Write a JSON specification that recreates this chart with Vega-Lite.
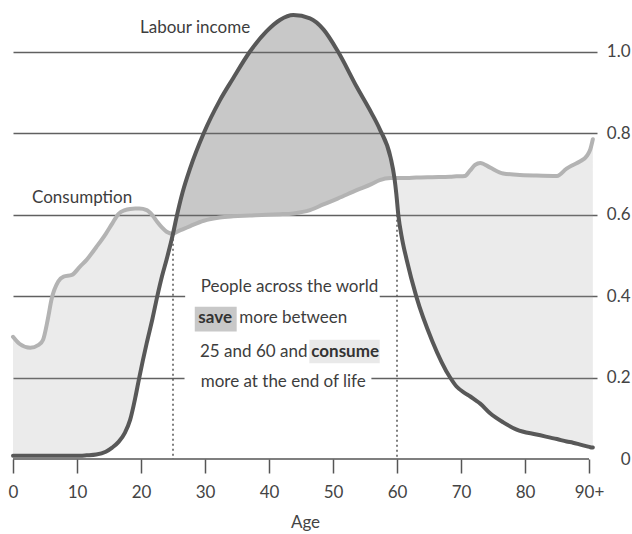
{
  "$schema": "https://vega.github.io/schema/vega-lite/v6.json",
  "width": 584,
  "height": 448,
  "autosize": {"type": "none"},
  "padding": {"left": 13, "top": 11, "right": 35, "bottom": 75},
  "background": "white",
  "config": {"view": {"stroke": null}, "font": "Lato"},
  "datasets": {
    "series": [
      {"age": 0, "cons": 0.300, "inc": 0.008},
      {"age": 1, "cons": 0.283, "inc": 0.008},
      {"age": 2.7, "cons": 0.273, "inc": 0.008},
      {"age": 4, "cons": 0.280, "inc": 0.008},
      {"age": 4.7, "cons": 0.293, "inc": 0.008},
      {"age": 5.4, "cons": 0.340, "inc": 0.008},
      {"age": 6.05, "cons": 0.394, "inc": 0.008},
      {"age": 7.07, "cons": 0.436, "inc": 0.008},
      {"age": 7.9, "cons": 0.448, "inc": 0.008},
      {"age": 9.2, "cons": 0.452, "inc": 0.008},
      {"age": 10.5, "cons": 0.473, "inc": 0.008},
      {"age": 11.5, "cons": 0.489, "inc": 0.009},
      {"age": 13, "cons": 0.520, "inc": 0.011},
      {"age": 14.5, "cons": 0.553, "inc": 0.018},
      {"age": 15.5, "cons": 0.578, "inc": 0.028},
      {"age": 16.5, "cons": 0.602, "inc": 0.042},
      {"age": 17.5, "cons": 0.611, "inc": 0.065},
      {"age": 18.3, "cons": 0.614, "inc": 0.096},
      {"age": 19.1, "cons": 0.615, "inc": 0.150},
      {"age": 19.73, "cons": 0.615, "inc": 0.200},
      {"age": 20.9, "cons": 0.611, "inc": 0.285},
      {"age": 21.8, "cons": 0.598, "inc": 0.345},
      {"age": 22.55, "cons": 0.582, "inc": 0.400},
      {"age": 23.3, "cons": 0.568, "inc": 0.450},
      {"age": 24, "cons": 0.558, "inc": 0.490},
      {"age": 25, "cons": 0.553, "inc": 0.553},
      {"age": 25.5, "cons": 0.557, "inc": 0.590},
      {"age": 26.5, "cons": 0.564, "inc": 0.655},
      {"age": 27.7, "cons": 0.572, "inc": 0.715},
      {"age": 29.8, "cons": 0.585, "inc": 0.800},
      {"age": 32.3, "cons": 0.593, "inc": 0.880},
      {"age": 34.4, "cons": 0.596, "inc": 0.935},
      {"age": 37, "cons": 0.598, "inc": 1.000},
      {"age": 39.6, "cons": 0.600, "inc": 1.050},
      {"age": 41.7, "cons": 0.601, "inc": 1.078},
      {"age": 43.8, "cons": 0.603, "inc": 1.090},
      {"age": 46.4, "cons": 0.611, "inc": 1.082},
      {"age": 48.5, "cons": 0.625, "inc": 1.055},
      {"age": 50.8, "cons": 0.640, "inc": 1.000},
      {"age": 53.7, "cons": 0.660, "inc": 0.914},
      {"age": 56, "cons": 0.675, "inc": 0.850},
      {"age": 57.3, "cons": 0.685, "inc": 0.810},
      {"age": 59, "cons": 0.690, "inc": 0.740},
      {"age": 59.6, "cons": 0.690, "inc": 0.690},
      {"age": 59.9, "cons": 0.690, "inc": 0.650},
      {"age": 60.2, "cons": 0.690, "inc": 0.600},
      {"age": 60.8, "cons": 0.690, "inc": 0.540},
      {"age": 61.5, "cons": 0.690, "inc": 0.490},
      {"age": 63, "cons": 0.691, "inc": 0.400},
      {"age": 65.5, "cons": 0.692, "inc": 0.290},
      {"age": 68.3, "cons": 0.693, "inc": 0.200},
      {"age": 69.3, "cons": 0.694, "inc": 0.178},
      {"age": 70.6, "cons": 0.695, "inc": 0.162},
      {"age": 71.4, "cons": 0.708, "inc": 0.154},
      {"age": 72.2, "cons": 0.722, "inc": 0.145},
      {"age": 73, "cons": 0.727, "inc": 0.136},
      {"age": 74.5, "cons": 0.716, "inc": 0.113},
      {"age": 76.6, "cons": 0.701, "inc": 0.090},
      {"age": 78.7, "cons": 0.698, "inc": 0.072},
      {"age": 81.8, "cons": 0.696, "inc": 0.060},
      {"age": 85, "cons": 0.695, "inc": 0.049},
      {"age": 86.5, "cons": 0.713, "inc": 0.043},
      {"age": 87.5, "cons": 0.722, "inc": 0.040},
      {"age": 88.5, "cons": 0.730, "inc": 0.036},
      {"age": 89.7, "cons": 0.745, "inc": 0.031},
      {"age": 90.2, "cons": 0.760, "inc": 0.029},
      {"age": 90.6, "cons": 0.785, "inc": 0.028}
    ],
    "guides": [
      {"age": 25, "top": 0.553},
      {"age": 60, "top": 0.600}
    ],
    "baseline": [
      {"from": 0, "to": 90, "level": 0}
    ],
    "masks": [
      {"x1": 26.9, "x2": 57.3, "y1": 0.385, "y2": 0.415},
      {"x1": 26.8, "x2": 56.0, "y1": 0.185, "y2": 0.215}
    ],
    "boxes": [
      {"word": "save", "x1": 28.4, "x2": 34.95, "y1": 0.313, "y2": 0.374},
      {"word": "consume", "x1": 46.3, "x2": 57.3, "y1": 0.235, "y2": 0.293}
    ],
    "notes": [
      {"x": 19.84, "y": 1.058, "text": "Labour income", "bold": false},
      {"x": 2.97, "y": 0.642, "text": "Consumption", "bold": false},
      {"x": 29.33, "y": 0.423, "text": "People across the world", "bold": false},
      {"x": 28.95, "y": 0.3455, "text": "save", "bold": true},
      {"x": 35.36, "y": 0.3455, "text": "more between", "bold": false},
      {"x": 29.22, "y": 0.262, "text": "25 and 60 and", "bold": false},
      {"x": 46.6, "y": 0.262, "text": "consume", "bold": true},
      {"x": 29.33, "y": 0.19, "text": "more at the end of life", "bold": false}
    ]
  },
  "layer": [
    {
      "data": {"name": "series"},
      "transform": [{"filter": "datum.age <= 25"}],
      "mark": {"type": "area", "interpolate": "monotone", "color": "#9a9a9a", "opacity": 0.2},
      "encoding": {
        "x": {
          "field": "age", "type": "quantitative",
          "scale": {"domain": [0, 91.25], "nice": false, "zero": false},
          "axis": {
            "title": "Age",
            "values": [0, 5, 10, 15, 20, 25, 30, 35, 40, 45, 50, 55, 60, 65, 70, 75, 80, 85, 90],
            "labelExpr": "datum.value % 10 === 0 ? (datum.value === 90 ? '90+' : datum.label) : ''",
            "domain": false, "grid": false, "ticks": true,
            "tickColor": "#555555", "tickWidth": 1.5, "tickSize": 14,
            "labelFontSize": 17, "labelColor": "#444444", "labelPadding": 11, "labelFlush": false,
            "labelFont": "Lato",
            "titleFontSize": 17, "titleFontWeight": "normal", "titleColor": "#444444", "titlePadding": 14,
            "titleFont": "Lato"
          }
        },
        "y": {
          "field": "cons", "type": "quantitative",
          "scale": {"domain": [0, 1.1], "nice": false, "zero": false},
          "axis": {
            "orient": "right", "title": null,
            "values": [0, 0.2, 0.4, 0.6, 0.8, 1.0],
            "labelExpr": "datum.value === 0 ? '0' : format(datum.value, '.1f')",
            "domain": false, "ticks": false, "grid": true,
            "gridColor": {"condition": {"test": "datum.value === 0", "value": "white"}, "value": "#606060"},
            "gridWidth": 1.5,
            "labelAlign": "right", "labelPadding": 33, "labelFontSize": 17, "labelColor": "#444444",
            "labelBaseline": "middle", "labelFont": "Lato"
          }
        },
        "y2": {"field": "inc"}
      }
    },
    {
      "data": {"name": "series"},
      "transform": [{"filter": "datum.age >= 25 && datum.age <= 59.6"}],
      "mark": {"type": "area", "interpolate": "monotone", "color": "#6e6e6e", "opacity": 0.38},
      "encoding": {
        "x": {"field": "age", "type": "quantitative"},
        "y": {"field": "cons", "type": "quantitative"},
        "y2": {"field": "inc"}
      }
    },
    {
      "data": {"name": "series"},
      "transform": [{"filter": "datum.age >= 59.6"}],
      "mark": {"type": "area", "interpolate": "monotone", "color": "#9a9a9a", "opacity": 0.2},
      "encoding": {
        "x": {"field": "age", "type": "quantitative"},
        "y": {"field": "cons", "type": "quantitative"},
        "y2": {"field": "inc"}
      }
    },
    {
      "data": {"name": "guides"},
      "mark": {"type": "rule", "color": "#555555", "strokeWidth": 1.5, "strokeDash": [2, 3]},
      "encoding": {
        "x": {"field": "age", "type": "quantitative"},
        "y": {"field": "top", "type": "quantitative"},
        "y2": {"datum": 0}
      }
    },
    {
      "data": {"name": "masks"},
      "mark": {"type": "rect", "color": "white", "opacity": 1},
      "encoding": {
        "x": {"field": "x1", "type": "quantitative"},
        "x2": {"field": "x2"},
        "y": {"field": "y1", "type": "quantitative"},
        "y2": {"field": "y2"}
      }
    },
    {
      "data": {"name": "boxes"},
      "mark": {"type": "rect", "opacity": 1},
      "encoding": {
        "x": {"field": "x1", "type": "quantitative"},
        "x2": {"field": "x2"},
        "y": {"field": "y1", "type": "quantitative"},
        "y2": {"field": "y2"},
        "color": {"field": "word", "type": "nominal", "legend": null,
          "scale": {"domain": ["save", "consume"], "range": ["#c8c8c8", "#e9e9e9"]}}
      }
    },
    {
      "data": {"name": "series"},
      "mark": {"type": "line", "interpolate": "monotone", "color": "#b3b3b3", "strokeWidth": 4, "strokeCap": "round"},
      "encoding": {
        "x": {"field": "age", "type": "quantitative"},
        "y": {"field": "cons", "type": "quantitative"}
      }
    },
    {
      "data": {"name": "series"},
      "mark": {"type": "line", "interpolate": "monotone", "color": "#585858", "strokeWidth": 4, "strokeCap": "round"},
      "encoding": {
        "x": {"field": "age", "type": "quantitative"},
        "y": {"field": "inc", "type": "quantitative"}
      }
    },
    {
      "data": {"name": "baseline"},
      "mark": {"type": "rule", "color": "#555555", "strokeWidth": 1.5},
      "encoding": {
        "x": {"field": "from", "type": "quantitative"},
        "x2": {"field": "to"},
        "y": {"field": "level", "type": "quantitative"}
      }
    },
    {
      "data": {"name": "notes"},
      "transform": [{"filter": "!datum.bold"}],
      "mark": {"type": "text", "align": "left", "baseline": "middle", "fontSize": 17, "color": "#3d3d3d", "font": "Lato"},
      "encoding": {
        "x": {"field": "x", "type": "quantitative"},
        "y": {"field": "y", "type": "quantitative"},
        "text": {"field": "text"}
      }
    },
    {
      "data": {"name": "notes"},
      "transform": [{"filter": "datum.bold"}],
      "mark": {"type": "text", "align": "left", "baseline": "middle", "fontSize": 17, "fontWeight": "bold", "color": "#333333", "font": "Lato"},
      "encoding": {
        "x": {"field": "x", "type": "quantitative"},
        "y": {"field": "y", "type": "quantitative"},
        "text": {"field": "text"}
      }
    }
  ]
}
